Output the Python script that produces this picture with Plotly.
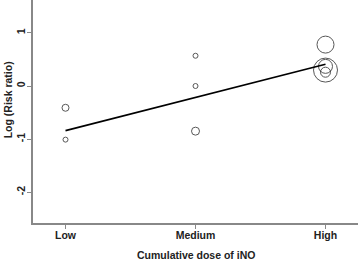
import plotly.graph_objects as go

# Data
dose_labels = ["Low", "Medium", "High"]
dose_pos = [1, 2, 3]

study_dose = [1, 1, 2, 2, 2, 3, 3, 3, 3]
study_logrr = [-0.41, -1.01, 0.57, 0.00, -0.85, 0.78, 0.30, 0.37, 0.26]
study_weight = [7, 5, 5, 5, 8, 17, 24, 14, 10]

fit_x = [1, 3]
fit_y = [-0.84, 0.41]

y_ticks = [-2, -1, 0, 1]

fig = go.Figure()
fig.add_trace(go.Scatter(
    x=study_dose, y=study_logrr, mode="markers",
    marker=dict(size=study_weight, color="rgba(0,0,0,0)",
                line=dict(color="#111", width=1)),
    showlegend=False, hoverinfo="skip"))
fig.add_trace(go.Scatter(
    x=fit_x, y=fit_y, mode="lines",
    line=dict(color="#000", width=1.6),
    showlegend=False, hoverinfo="skip"))

font = dict(family="Liberation Sans, Arial, sans-serif", size=10.5, color="#222", weight="bold")

fig.update_layout(
    width=358, height=260,
    margin=dict(l=33, r=0, t=0, b=37, autoexpand=False),
    plot_bgcolor="white", paper_bgcolor="white",
    font=font,
    xaxis=dict(range=[0.75, 3.25], tickvals=dose_pos, ticktext=dose_labels,
               showline=True, linecolor="#888", linewidth=1.5,
               ticks="outside", ticklen=4, tickcolor="#888", tickwidth=1,
               showgrid=False, zeroline=False, automargin=False,
               ticklabelstandoff=-2, tickfont=font),
    yaxis=dict(range=[-2.58, 1.62], tickvals=y_ticks,
               ticktext=[str(v) for v in y_ticks],
               tickangle=-90,
               showline=True, linecolor="#888", linewidth=1.5,
               ticks="outside", ticklen=4, tickcolor="#888", tickwidth=1,
               showgrid=False, zeroline=False, automargin=False,
               ticklabelstandoff=-2, tickfont=font),
    annotations=[
        dict(text="Cumulative dose of iNO", xref="paper", yref="paper",
             x=0.5, y=0, yshift=-32, xanchor="center", yanchor="middle",
             showarrow=False, font=font),
        dict(text="Log (Risk ratio)", xref="paper", yref="paper",
             x=0, y=0.55, xshift=-25, xanchor="center", yanchor="middle",
             textangle=-90, showarrow=False, font=font),
    ],
)
fig.write_html("out.html", config={"displayModeBar": False},
               post_script="document.body.style.margin='0';document.body.style.overflow='hidden';")
